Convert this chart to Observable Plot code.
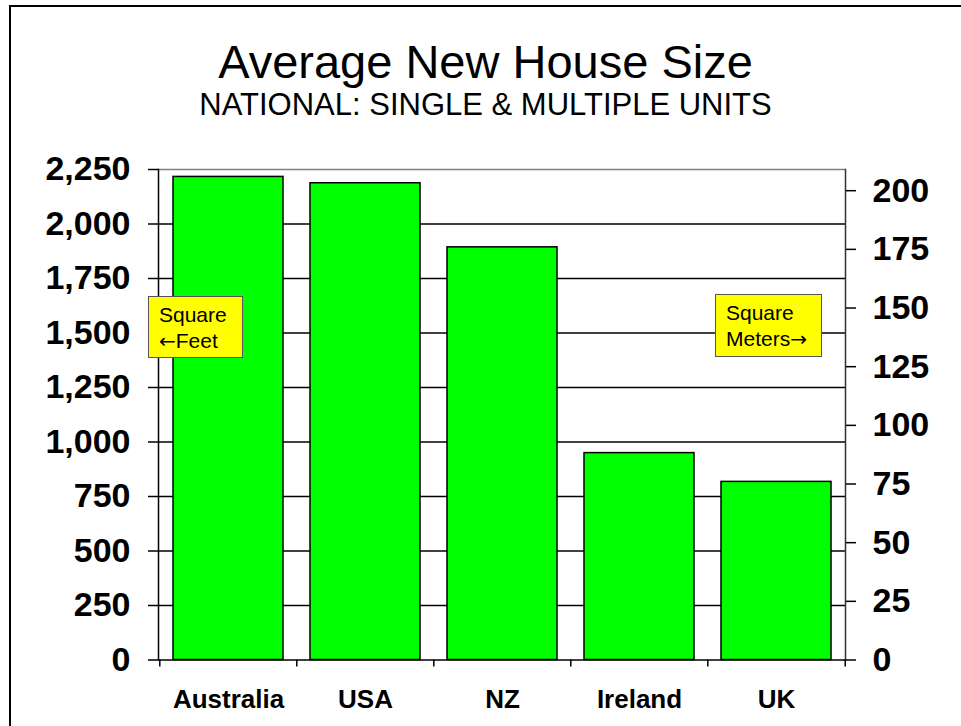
<!DOCTYPE html>
<html>
<head>
<meta charset="utf-8">
<script src="https://cdn.jsdelivr.net/npm/d3@7"></script>
<script src="https://cdn.jsdelivr.net/npm/@observablehq/plot@0.6"></script>
<style>
  html, body { margin: 0; padding: 0; background: #fff; }
  #page { position: relative; width: 961px; height: 726px; overflow: hidden; font-family: "Liberation Sans", Arial, sans-serif; color: #000; }
  #border { position: absolute; left: 9px; top: 5px; width: 1200px; height: 1200px; border-left: 2px solid #000; border-top: 2px solid #000; }
  .ttl { position: absolute; left: 10px; width: 951px; text-align: center; white-space: nowrap; }
  #title { top: 37.5px; font-size: 47px; line-height: 47px; }
  #subtitle { top: 88.8px; font-size: 31px; line-height: 31px; }
  #chart { position: absolute; left: 0; top: 140px; }
  .note { position: absolute; box-sizing: border-box; background: #ffff00; border: 1px solid #555; font-size: 21px; line-height: 26px; padding: 5px 0 0 10px; white-space: nowrap; }
  .arr { font-family: "DejaVu Sans", sans-serif; font-size: 20px; }
</style>
</head>
<body>
<div id="page">
  <div id="border"></div>
  <div id="title" class="ttl">Average New House Size</div>
  <div id="subtitle" class="ttl">NATIONAL: SINGLE &amp; MULTIPLE UNITS</div>
  <div id="chart"></div>
  <div class="note" style="left:148px; top:296px; width:95px; height:62px;">Square<br><span class="arr">←</span>Feet</div>
  <div class="note" style="left:715px; top:294px; width:107px; height:63px;">Square<br>Meters<span class="arr">→</span></div>
</div>
<script>
const countries = ["Australia", "USA", "NZ", "Ireland", "UK"];
const squareFeet = [2216, 2187, 1893, 949, 817];
const feetTicks = [0, 250, 500, 750, 1000, 1250, 1500, 1750, 2000, 2250];
const meterTicks = [0, 25, 50, 75, 100, 125, 150, 175, 200];
const SQFT_PER_M2 = 10.7639;

const data = countries.map((c, i) => ({country: c, sqft: squareFeet[i]}));

const W = 961, H = 586, mL = 158, mR = 116, mT = 29, mB = 66.5;
const pInner = 0.2, pOuter = 0.1;
const step = (W - mL - mR) / (countries.length - pInner + 2 * pOuter);

const chart = Plot.plot({
  width: W,
  height: H,
  marginTop: mT,
  marginBottom: mB,
  marginLeft: mL,
  marginRight: mR,
  style: {fontFamily: "'Liberation Sans', Arial, sans-serif", color: "#000", background: "transparent"},
  x: {domain: countries, paddingInner: pInner, paddingOuter: pOuter, axis: null},
  y: {domain: [0, 2250], axis: null},
  marks: [
    Plot.ruleY(feetTicks.filter(v => v > 0 && v < 2250), {stroke: "#000", strokeWidth: 1.5}),
    Plot.ruleY([2250], {stroke: "#808080", strokeWidth: 1.5}),
    Plot.barY(data, {x: "country", y: "sqft", fill: "#00ff00", stroke: "#000", strokeWidth: 1.5}),
    Plot.ruleY([0], {stroke: "#000", strokeWidth: 1.5}),
    Plot.frame({anchor: "left", stroke: "#000", strokeWidth: 1.5}),
    Plot.frame({anchor: "right", stroke: "#333", strokeWidth: 1.5}),
    Plot.axisY({anchor: "left", ticks: feetTicks, tickFormat: d3.format(","), tickSize: 10, tickPadding: 18,
      fontSize: 34, fontWeight: "bold", strokeWidth: 1.5, label: null}),
    Plot.axisY({anchor: "right", ticks: meterTicks.map(m => m * SQFT_PER_M2), tickFormat: d => String(Math.round(d / SQFT_PER_M2)),
      tickSize: 10, tickPadding: 17, fontSize: 34, fontWeight: "bold", strokeWidth: 1.5, label: null}),
    Plot.axisX({tickSize: 0, tickPadding: 30, fontSize: 26, fontWeight: "bold", label: null}),
    Plot.ruleX(countries, {x: d => d, y1: 0, y2: 0, dx: -step / 2, insetBottom: -7, stroke: "#000", strokeWidth: 1.5}),
    Plot.ruleX(countries.slice(-1), {x: d => d, y1: 0, y2: 0, dx: step / 2, insetBottom: -7, stroke: "#000", strokeWidth: 1.5})
  ]
});
document.getElementById("chart").appendChild(chart);
</script>
</body>
</html>
